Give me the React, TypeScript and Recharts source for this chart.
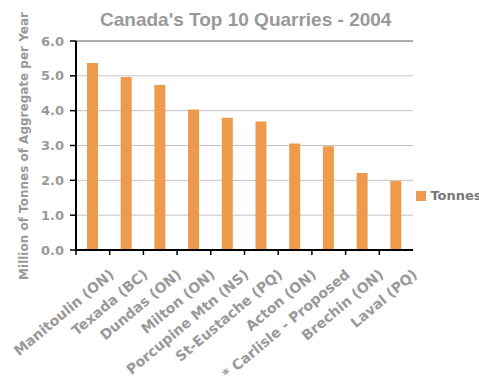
import { BarChart, Bar, XAxis, YAxis, CartesianGrid, Legend, ReferenceLine } from 'recharts';

const quarries = [
  'Manitoulin (ON)', 'Texada (BC)', 'Dundas (ON)', 'Milton (ON)', 'Porcupine Mtn (NS)',
  'St-Eustache (PQ)', 'Acton (ON)', '* Carlisle - Proposed', 'Brechin (ON)', 'Laval (PQ)',
];
const tonnes = [5.37, 4.97, 4.74, 4.03, 3.8, 3.69, 3.06, 2.98, 2.21, 1.98];
const yTicks = [0, 1, 2, 3, 4, 5, 6];

const data = quarries.map((name, i) => ({ name, Tonnes: tonnes[i] }));

const W = 479;
const H = 387;
const xAxisHeight = 130;
const margin = { top: 41, right: 66, bottom: 137 - xAxisHeight, left: 0 };
const yAxisWidth = 76;
const band = (W - margin.left - margin.right - yAxisWidth) / quarries.length;
const grey = '#999999';
const sans = '"Liberation Sans", Arial, sans-serif';
const wide = '"DejaVu Sans", Verdana, sans-serif';

function QuarryTick(props: any) {
  const { x, y, payload } = props;
  return (
    <g>
      <line x1={x - band / 2} x2={x - band / 2} y1={y - 8} y2={y - 3} stroke="#000" strokeWidth={1.5} />
      <g transform={`translate(${x + 22},${y + 18})`}>
        <text
          x={0}
          y={0}
          textAnchor="end"
          transform="rotate(-40)"
          fill={grey}
          fontSize={14}
          fontWeight="bold"
          fontFamily={wide}
        >
          {payload.value}
        </text>
      </g>
    </g>
  );
}

export default function App() {
  return (
    <div style={{ position: 'absolute', left: 0, top: 0, width: W, height: H, overflow: 'hidden', background: '#fff' }}>
      <BarChart width={W} height={H} data={data} margin={margin}>
        <CartesianGrid vertical={false} stroke="#c4c4c4" />
        <ReferenceLine y={6} stroke="#7a7a7a" />
        <XAxis
          dataKey="name"
          interval={0}
          tickLine={false}
          axisLine={{ stroke: '#000', strokeWidth: 2 }}
          tick={<QuarryTick />}
          height={xAxisHeight}
        />
        <YAxis
          width={yAxisWidth}
          domain={[0, 6]}
          ticks={yTicks}
          interval={0}
          tickFormatter={(v: number) => v.toFixed(1)}
          axisLine={{ stroke: '#000', strokeWidth: 2 }}
          tickLine={{ stroke: '#000', strokeWidth: 1.5 }}
          tickSize={6}
          tickMargin={6}
          tick={{ fill: grey, fontSize: 13, fontWeight: 'bold', fontFamily: wide }}
        />
        <Legend
          layout="horizontal"
          align="center"
          verticalAlign="middle"
          iconType="square"
          iconSize={10}
          wrapperStyle={{ left: 409, top: 185, width: 90, fontFamily: wide, textAlign: 'left' }}
          formatter={(v: string) => (
            <span style={{ color: '#777', fontWeight: 'bold', fontSize: 13 }}>{v}</span>
          )}
        />
        <Bar dataKey="Tonnes" fill="#ee9a4d" barSize={11} isAnimationActive={false} />
      </BarChart>
      <svg width={W} height={H} style={{ position: 'absolute', left: 0, top: 0, pointerEvents: 'none' }}>
        <text x={100} y={26} fill={grey} fontSize={19} fontWeight="bold" fontFamily={sans}>
          Canada's Top 10 Quarries - 2004
        </text>
        <text
          x={28}
          y={146}
          textAnchor="middle"
          transform="rotate(-90, 28, 146)"
          fill={grey}
          fontSize={12}
          fontWeight="bold"
          fontFamily={wide}
        >
          Million of Tonnes of Aggregate per Year
        </text>
      </svg>
    </div>
  );
}
